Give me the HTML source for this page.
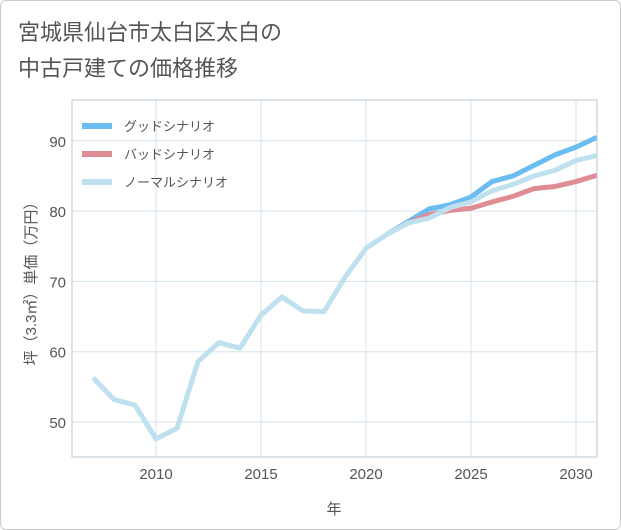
<!DOCTYPE html>
<html><head><meta charset="utf-8"><style>
body{margin:0;background:#fff;}
#wrap{width:619px;height:528px;border:1px solid #ccc;border-radius:6px;position:relative;background:#fff;font-family:"Liberation Sans","Noto Sans CJK JP",sans-serif;}
</style></head><body>
<div id="wrap">
<svg id="chart" width="621" height="530" style="position:absolute;left:-1px;top:-1px">
<text x="18" y="40" font-size="22" fill="#555" font-family="Liberation Sans,Noto Sans CJK JP,sans-serif">宮城県仙台市太白区太白の</text>
<text x="18" y="76" font-size="22" fill="#555" font-family="Liberation Sans,Noto Sans CJK JP,sans-serif">中古戸建ての価格推移</text>
<g id="grid"></g><g id="series"></g><g id="axes"></g><g id="legend"></g>
<text x="334" y="514" font-size="15" fill="#555" text-anchor="middle" font-family="Liberation Sans,Noto Sans CJK JP,sans-serif">年</text>
<text transform="translate(36,280) rotate(-90)" font-size="15" fill="#555" text-anchor="middle" font-family="Liberation Sans,Noto Sans CJK JP,sans-serif">坪（3.3㎡）単価（万円）</text>
</svg>
</div>
<script>
const normalYears=[2007,2008,2009,2010,2011,2012,2013,2014,2015,2016,2017,2018,2019,2020,2021,2022,2023,2024,2025,2026,2027,2028,2029,2030,2031];
const normalValues=[56.3,53.2,52.4,47.6,49.1,58.6,61.3,60.5,65.2,67.8,65.8,65.7,70.6,74.7,76.7,78.3,79.0,80.5,81.3,82.9,83.8,85.0,85.8,87.2,87.9];
const forecastYears=[2021,2022,2023,2024,2025,2026,2027,2028,2029,2030,2031];
const goodValues=[76.7,78.5,80.3,80.9,82.0,84.2,85.0,86.5,88.0,89.1,90.5];
const badValues=[76.7,78.3,79.5,80.1,80.4,81.3,82.1,83.2,83.5,84.2,85.1];
const xTicks=[2010,2015,2020,2025,2030];
const yTicks=[50,60,70,80,90];
const legendLabels=["グッドシナリオ","バッドシナリオ","ノーマルシナリオ"];
const colors=["#6bbcf0","#e08c94","#bfe0ee"];
const L=72,R=597,T=100,B=457;
const xs=y=>156+(y-2010)*21;
const ys=v=>422-(v-50)*7.03;
const ns="http://www.w3.org/2000/svg";
function mk(t,a,p){const e=document.createElementNS(ns,t);for(const k in a)e.setAttribute(k,a[k]);p.appendChild(e);return e;}
const grid=document.getElementById('grid'),axes=document.getElementById('axes'),ser=document.getElementById('series'),leg=document.getElementById('legend');
xTicks.forEach(t=>{const l=mk('line',{x1:xs(t),x2:xs(t),y1:T,y2:B,stroke:'#d5e3ec','stroke-width':1},grid);

const tx=mk('text',{x:xs(t),y:479,'font-size':15,fill:'#555','text-anchor':'middle'},axes);tx.textContent=t;
});
yTicks.forEach(t=>{const l=mk('line',{x1:L,x2:R,y1:ys(t),y2:ys(t),stroke:'#d5e3ec','stroke-width':1},grid);

const tx=mk('text',{x:L-6,y:ys(t)+6,'font-size':15,fill:'#555','text-anchor':'end'},axes);tx.textContent=t;
});
const fr=mk('rect',{x:L,y:T,width:R-L,height:B-T,fill:'none',stroke:'#b8c8d4'},axes);

const clip=mk('clipPath',{id:'pc'},ser);mk('rect',{x:L,y:T,width:R-L,height:B-T},clip);
function line(xv,yv,c,name){const p=mk('polyline',{points:xv.map((x,i)=>xs(x)+','+ys(yv[i])).join(' '),fill:'none',stroke:c,'stroke-width':5,'stroke-linejoin':'round','clip-path':'url(#pc)'},ser);
}
line(forecastYears,goodValues,colors[0],'good-scenario-line');
line(forecastYears,badValues,colors[1],'bad-scenario-line');
line(normalYears,normalValues,colors[2],'normal-scenario-line');
legendLabels.forEach((s,i)=>{const y=126+i*28;
const l=mk('line',{x1:82,x2:112,y1:y,y2:y,stroke:colors[i],'stroke-width':6},leg);

const t=mk('text',{x:124,y:y+5,'font-size':13,fill:'#555'},leg);t.textContent=s;
});
</script>
</body></html>
